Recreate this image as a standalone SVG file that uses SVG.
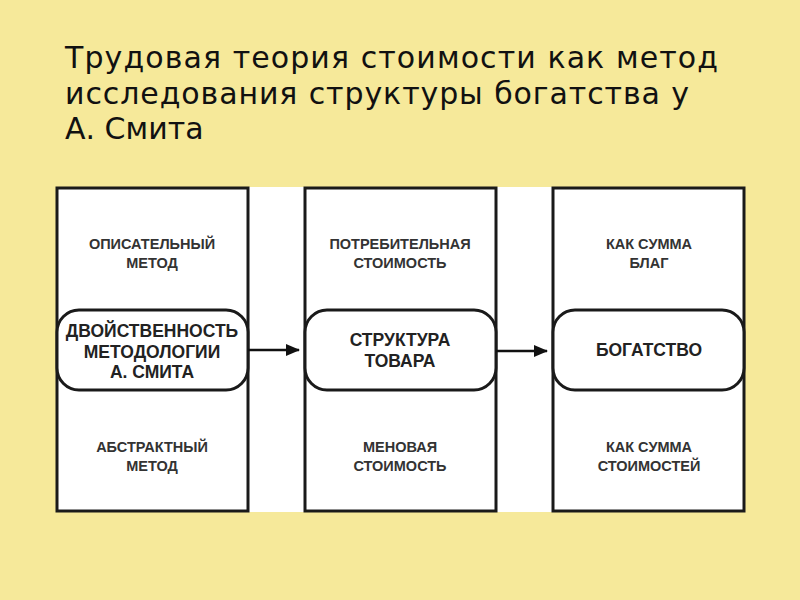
<svg xmlns="http://www.w3.org/2000/svg" width="800" height="600" viewBox="0 0 800 600">
<defs>
<marker id="ah" markerWidth="14" markerHeight="12" refX="13" refY="6" orient="auto" markerUnits="userSpaceOnUse"><path d="M0,0 L14,6 L0,12 z" fill="#111"/></marker>
<style>
.box{fill:#fff;stroke:#1a1a1a;stroke-width:3}
.pill{fill:#fff;stroke:#1a1a1a;stroke-width:3}
.s{font-family:"Liberation Sans",Arial,sans-serif;font-weight:bold;font-size:14.5px;fill:#333;text-anchor:middle}
.b{font-family:"Liberation Sans",Arial,sans-serif;font-weight:bold;font-size:17.5px;fill:#222;text-anchor:middle}
.t{font-family:"DejaVu Sans",sans-serif;font-size:30px;fill:#111}
</style>
</defs>
<rect width="800" height="600" fill="#f6e99a"/>
<g id="title"><text class="t" x="65" y="68" textLength="653">Трудовая теория стоимости как метод</text><text class="t" x="65" y="104" textLength="624">исследования структуры богатства у</text><text class="t" x="65" y="139">А. Смита</text></g>
<rect x="57" y="187" width="688" height="325" fill="#fff"/>
<g id="col1"><rect class="box" x="57" y="188" width="191" height="323"/>
<text class="s" x="152" y="249">ОПИСАТЕЛЬНЫЙ</text><text class="s" x="152" y="268">МЕТОД</text>
<text class="s" x="152" y="452">АБСТРАКТНЫЙ</text><text class="s" x="152" y="471">МЕТОД</text></g>
<g id="n1"><rect class="pill" x="57" y="310" width="191" height="80" rx="22"/>
<text class="b" x="152" y="337">ДВОЙСТВЕННОСТЬ</text><text class="b" x="152" y="358">МЕТОДОЛОГИИ</text><text class="b" x="152" y="378">А. СМИТА</text></g>
<g id="col2"><rect class="box" x="305" y="188" width="191" height="323"/>
<text class="s" x="400" y="249">ПОТРЕБИТЕЛЬНАЯ</text><text class="s" x="400" y="268">СТОИМОСТЬ</text>
<text class="s" x="400" y="452">МЕНОВАЯ</text><text class="s" x="400" y="471">СТОИМОСТЬ</text></g>
<g id="n2"><rect class="pill" x="305" y="310" width="191" height="80" rx="22"/>
<text class="b" x="400" y="346">СТРУКТУРА</text><text class="b" x="400" y="367">ТОВАРА</text></g>
<g id="col3"><rect class="box" x="553" y="188" width="191" height="323"/>
<text class="s" x="649" y="249">КАК СУММА</text><text class="s" x="649" y="268">БЛАГ</text>
<text class="s" x="649" y="452">КАК СУММА</text><text class="s" x="649" y="471">СТОИМОСТЕЙ</text></g>
<g id="n3"><rect class="pill" x="553" y="310" width="191" height="80" rx="22"/>
<text class="b" x="649" y="356">БОГАТСТВО</text></g>
<g id="connectors" stroke="#111" stroke-width="2.5">
<line x1="248" y1="350" x2="299" y2="350" marker-end="url(#ah)"/>
<line x1="496" y1="351" x2="547" y2="351" marker-end="url(#ah)"/>
</g>
</svg>
